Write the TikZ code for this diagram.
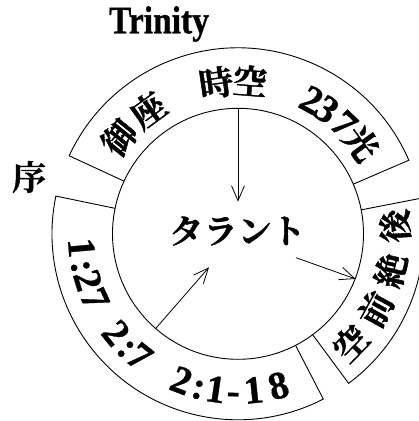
\documentclass[tikz,border=0pt]{standalone}
\usepackage{fontspec}
\usepackage{graphicx}
\setmainfont{Liberation Serif}[BoldFeatures={FakeBold=0.8}]
\newfontfamily\cjk{Noto Serif CJK JP}[BoldFont={Noto Serif CJK JP Bold},BoldFeatures={FakeBold=1.2}]
\usetikzlibrary{arrows.meta}
\tikzset{
  ring/.style={line width=0.9pt},
  conn/.style={line width=0.8pt,-{Straight Barb[length=15pt,width=13pt]}},
  lat/.style={font=\fontsize{39}{41}\selectfont\bfseries,inner sep=0pt},
  cj/.style={font=\fontsize{34}{36}\selectfont\cjk\bfseries,inner sep=0pt},
}
\newcommand\outglyph[4]{\node[#1,anchor=base,rotate=#3-90] (#2) at (#3:140pt) {#4};}
\newcommand\inglyph[4]{\node[#1,anchor=base,rotate=#3+90] (#2) at (#3:170pt) {#4};}
\begin{document}
\begin{tikzpicture}
\useasboundingbox (-238pt,-187.2pt) rectangle (181pt,233.8pt);
\clip (-238pt,-187.2pt) rectangle (181pt,233.8pt);
% hub circle
\node[circle,draw,ring,minimum size=251pt,inner sep=0pt] (hub) at (0,0) {};
% ring segments
\draw[ring] (23.3:125.5pt) -- (23.3:186pt) arc[start angle=23.3,end angle=155.2,radius=186pt] -- (155.2:125.5pt);
\draw[ring] (168.3:125.5pt) -- (168.3:186pt) arc[start angle=168.3,end angle=297.3,radius=186pt] -- (297.3:125.5pt);
\draw[ring] (-53.5:125.5pt) -- (-53.5:186pt) arc[start angle=-53.5,end angle=11,radius=186pt] -- (11:125.5pt);
% centre label
\node[cj] (talent) at (-0.5pt,2.8pt) {タラント};
% outside labels
\node[lat,anchor=base] (trinity) at (-79pt,200.5pt) {\scalebox{0.86}[1]{Trinity}};
\node[cj] (jo) at (-209pt,56.8pt) {序};
% top segment texts
\outglyph{cj}{gA}{141}{御}
\outglyph{cj}{gB}{126}{座}
\outglyph{cj}{jA}{98.3}{時}
\outglyph{cj}{jB}{85.5}{空}
\outglyph{lat}{k2}{61.2}{2}
\outglyph{lat}{k3}{54.5}{3}
\outglyph{lat}{k7}{46}{7}
\outglyph{cj}{kk}{36.2}{光}
% left/bottom segment texts
\inglyph{lat}{a1}{-174.9}{1}
\inglyph{lat}{ac}{-168.2}{:}
\inglyph{lat}{a2}{-162.8}{2}
\inglyph{lat}{a7}{-155.5}{7}
\inglyph{lat}{b2}{-140.9}{2}
\inglyph{lat}{bc}{-134.2}{:}
\inglyph{lat}{b7}{-128.7}{7}
\inglyph{lat}{c2}{-111.1}{2}
\inglyph{lat}{cc}{-104.4}{:}
\inglyph{lat}{c1}{-98.2}{1}
\inglyph{lat}{cd}{-91.7}{-}
\inglyph{lat}{c1b}{-84.3}{1}
\inglyph{lat}{c8}{-75.1}{8}
% right segment texts
\inglyph{cj}{r1}{-44.2}{空}
\inglyph{cj}{r2}{-28.7}{前}
\inglyph{cj}{r3}{-13.5}{絶}
\inglyph{cj}{r4}{2.9}{後}
% connectors
\coordinate (tipA) at (0pt,32.1pt);
\coordinate (tipB) at (-29pt,-33.5pt);
\coordinate (startC) at (58pt,-23.9pt);
\draw[conn] (hub.90) -- (tipA);
\draw[conn] (hub.-131.5) -- (tipB);
\draw[conn] (startC) -- (hub.-21);
\end{tikzpicture}
\end{document}
